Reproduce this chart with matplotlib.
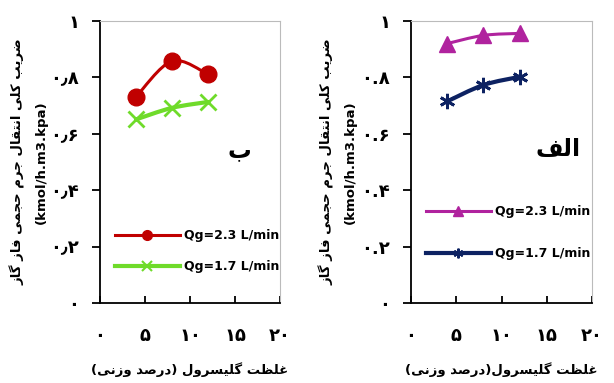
import matplotlib
matplotlib.use("Agg")
import matplotlib.pyplot as plt
from matplotlib.path import Path
from matplotlib.patches import PathPatch
from matplotlib.lines import Line2D

# glycerol concentration (wt %)
glycerol = [4, 8, 12]

# panel "ب"
b_qg23 = [0.731, 0.858, 0.811]
b_qg17 = [0.651, 0.692, 0.713]

# panel "الف"
a_qg23 = [0.920, 0.949, 0.956]
a_qg17 = [0.715, 0.773, 0.802]

x_ticks = [0, 5, 10, 15, 20]
y_ticks = [0, 0.2, 0.4, 0.6, 0.8, 1.0]
x_labels = ["۰", "۵", "۱۰", "۱۵", "۲۰"]
y_labels_b = ["۰", "۰٫۲", "۰٫۴", "۰٫۶", "۰٫۸", "۱"]
y_labels_a = ["۰", "۰.۲", "۰.۴", "۰.۶", "۰.۸", "۱"]

legend_labels = ["Qg=2.3 L/min", "Qg=1.7 L/min"]

# simple Persian shaping: (isolated, final, initial, medial)
FORMS = {
    "ا": ("\uFE8D", "\uFE8E", None, None),
    "د": ("\uFEA9", "\uFEAA", None, None),
    "ر": ("\uFEAD", "\uFEAE", None, None),
    "ز": ("\uFEAF", "\uFEB0", None, None),
    "و": ("\uFEED", "\uFEEE", None, None),
    "ب": ("\uFE8F", "\uFE90", "\uFE91", "\uFE92"),
    "ت": ("\uFE95", "\uFE96", "\uFE97", "\uFE98"),
    "ج": ("\uFE9D", "\uFE9E", "\uFE9F", "\uFEA0"),
    "ح": ("\uFEA1", "\uFEA2", "\uFEA3", "\uFEA4"),
    "س": ("\uFEB1", "\uFEB2", "\uFEB3", "\uFEB4"),
    "ص": ("\uFEB9", "\uFEBA", "\uFEBB", "\uFEBC"),
    "ض": ("\uFEBD", "\uFEBE", "\uFEBF", "\uFEC0"),
    "ظ": ("\uFEC5", "\uFEC6", "\uFEC7", "\uFEC8"),
    "غ": ("\uFECD", "\uFECE", "\uFECF", "\uFED0"),
    "ف": ("\uFED1", "\uFED2", "\uFED3", "\uFED4"),
    "ق": ("\uFED5", "\uFED6", "\uFED7", "\uFED8"),
    "ل": ("\uFEDD", "\uFEDE", "\uFEDF", "\uFEE0"),
    "م": ("\uFEE1", "\uFEE2", "\uFEE3", "\uFEE4"),
    "ن": ("\uFEE5", "\uFEE6", "\uFEE7", "\uFEE8"),
    "ک": ("\uFB8E", "\uFB8F", "\uFB90", "\uFB91"),
    "گ": ("\uFB92", "\uFB93", "\uFB94", "\uFB95"),
    "ی": ("\uFBFC", "\uFBFD", "\uFBFE", "\uFBFF"),
}


def fa(text):
    out = []
    for i, ch in enumerate(text):
        if ch not in FORMS:
            out.append(ch)
            continue
        prev = text[i - 1] if i > 0 else ""
        nxt = text[i + 1] if i + 1 < len(text) else ""
        join_prev = prev in FORMS and FORMS[prev][2] is not None
        join_next = FORMS[ch][2] is not None and nxt in FORMS
        iso, fin, ini, med = FORMS[ch]
        if join_prev and join_next:
            out.append(med)
        elif join_prev:
            out.append(fin)
        elif join_next:
            out.append(ini)
        else:
            out.append(iso)
    vis = "".join(out)[::-1]
    return vis.translate(str.maketrans("()", ")("))


def smooth(ax, xs, ys, color, lw):
    # Catmull-Rom style bezier through the data points
    pts = list(zip(xs, ys))
    verts = [pts[0]]
    codes = [Path.MOVETO]
    for i in range(len(pts) - 1):
        p0 = pts[i - 1] if i > 0 else pts[i]
        p1, p2 = pts[i], pts[i + 1]
        p3 = pts[i + 2] if i + 2 < len(pts) else pts[i + 1]
        c1 = (p1[0] + (p2[0] - p0[0]) / 6, p1[1] + (p2[1] - p0[1]) / 6)
        c2 = (p2[0] - (p3[0] - p1[0]) / 6, p2[1] - (p3[1] - p1[1]) / 6)
        verts += [c1, c2, p2]
        codes += [Path.CURVE4] * 3
    ax.add_patch(PathPatch(Path(verts, codes), fill=False, edgecolor=color,
                           lw=lw, capstyle="round", joinstyle="round"))


plt.rcParams["font.family"] = ["DejaVu Sans"]
plt.rcParams["font.weight"] = "bold"

fig = plt.figure(figsize=(6.14, 3.83), dpi=100)
ax_b = fig.add_axes([100 / 614, 80 / 383, 180 / 614, 282 / 383])
ax_a = fig.add_axes([411 / 614, 80 / 383, 181 / 614, 282 / 383])

ylabel = fa("ضریب کلی انتقال جرم حجمی فاز گاز") + "\n(kmol/h.m3.kpa)"

panels = [
    (ax_b, b_qg23, b_qg17, "#C00000", "#6FDB2A", "o", "x", 2.2, 3.0,
     y_labels_b, fa("غلظت گلیسرول (درصد وزنی)"), fa("ب"), (15.5, 0.54),
     (0.02, 0.183), 1.45, -0.29),
    (ax_a, a_qg23, a_qg17, "#B0239E", "#0D2262", "^", (6, 2, 0), 2.2, 3.0,
     y_labels_a, fa("غلظت گلیسرول(درصد وزنی)"), fa("الف"), (16.3, 0.547),
     (0.02, 0.249), 2.3, -0.30),
]

for (ax, s1, s2, c1, c2, m1, m2, lw1, lw2, ylabs, xlab, tag, tag_xy,
     leg_xy, spacing, ylab_x) in panels:
    smooth(ax, glycerol, s1, c1, lw1)
    smooth(ax, glycerol, s2, c2, lw2)
    ax.plot(glycerol, s1, ls="none", marker=m1, ms=12, color=c1)
    ax.plot(glycerol, s2, ls="none", marker=m2, ms=11, color=c2,
            mew=2)
    ax.set_xlim(0, 20)
    ax.set_ylim(0, 1)
    ax.set_xticks(x_ticks)
    ax.set_xticklabels(x_labels, fontsize=13, fontweight="bold")
    ax.set_yticks(y_ticks)
    ax.set_yticklabels(ylabs, fontsize=13, fontweight="bold")
    ax.tick_params(axis="x", direction="in", length=5, width=1.3, pad=17)
    ax.tick_params(axis="y", direction="out", length=6, width=1.3, pad=9)
    for sp in ax.spines.values():
        sp.set_linewidth(1.3)
        sp.set_color("black")
    ax.spines["top"].set_color("#bbbbbb")
    ax.spines["top"].set_linewidth(0.8)
    ax.spines["right"].set_color("#bbbbbb")
    ax.spines["right"].set_linewidth(0.8)
    ax.set_xlabel(xlab, fontsize=9.5, fontweight="bold", labelpad=13)
    ax.set_ylabel(ylabel, fontsize=9.5, fontweight="bold", linespacing=1.9)
    ax.yaxis.set_label_coords(ylab_x, 0.5)
    ax.text(tag_xy[0], tag_xy[1], tag, fontsize=17, fontweight="bold",
            ha="center", va="center")
    handles = [
        Line2D([], [], color=c1, lw=lw1, marker=m1, ms=7),
        Line2D([], [], color=c2, lw=lw2, marker=m2, ms=7, mew=1.5),
    ]
    ax.legend(handles, legend_labels, loc="center left",
              bbox_to_anchor=leg_xy, frameon=False, handlelength=5.2,
              handletextpad=0.3, labelspacing=spacing,
              prop={"size": 9, "weight": "bold"})

fig.savefig("out.png", dpi=100)
